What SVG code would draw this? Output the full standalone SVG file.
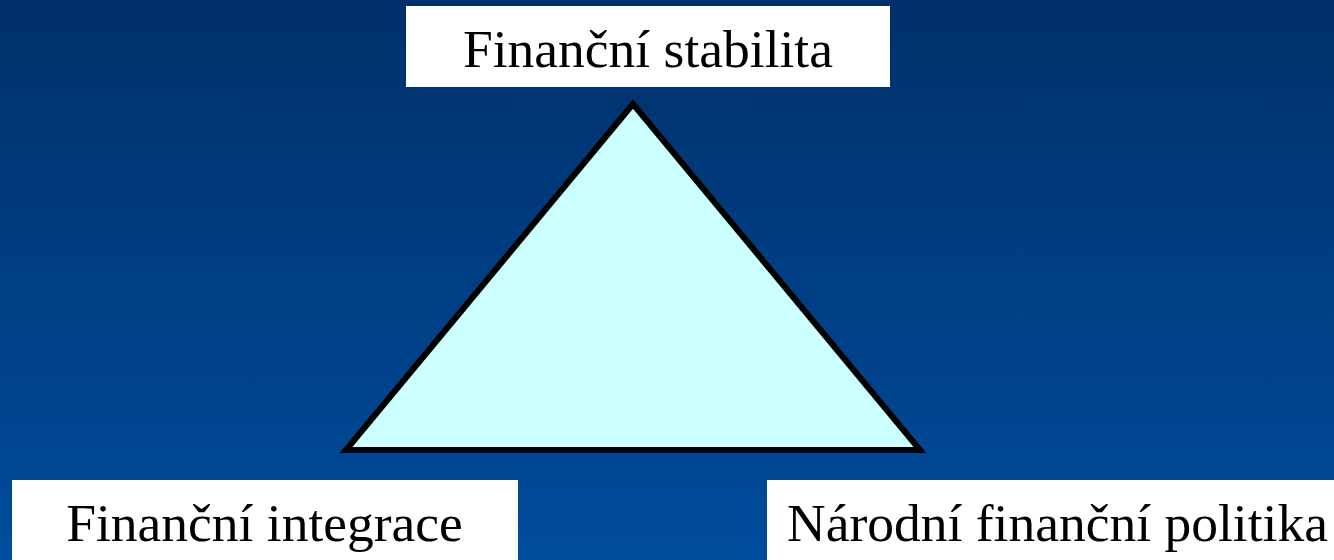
<svg xmlns="http://www.w3.org/2000/svg" width="1334" height="560" viewBox="0 0 1334 560">
<defs>
<linearGradient id="bg" x1="0" y1="0" x2="0" y2="1">
<stop offset="0" stop-color="#00306a"/>
<stop offset="1" stop-color="#004c9c"/>
</linearGradient>
<style>
.box{fill:#ffffff}
.lbl{font-family:"Liberation Serif","Times New Roman",serif;font-size:53.5px;fill:#000000;text-anchor:middle}
</style>
</defs>
<rect x="0" y="0" width="1334" height="560" fill="url(#bg)"/>
<g id="triangle">
<polygon points="633,104 346,450 920,450" fill="#ccffff" stroke="#000000" stroke-width="6" stroke-linejoin="miter"/>
</g>
<g id="connectors"></g>
<g id="node-stabilita">
<rect class="box" x="406" y="6" width="484" height="81"/>
<text class="lbl" x="648" y="67">Finanční stabilita</text>
</g>
<g id="node-integrace">
<rect class="box" x="12" y="480" width="506" height="80"/>
<text class="lbl" x="264.5" y="541">Finanční integrace</text>
</g>
<g id="node-politika">
<rect class="box" x="767" y="480" width="567" height="80"/>
<text class="lbl" x="1057.5" y="541">Národní finanční politika</text>
</g>
</svg>
